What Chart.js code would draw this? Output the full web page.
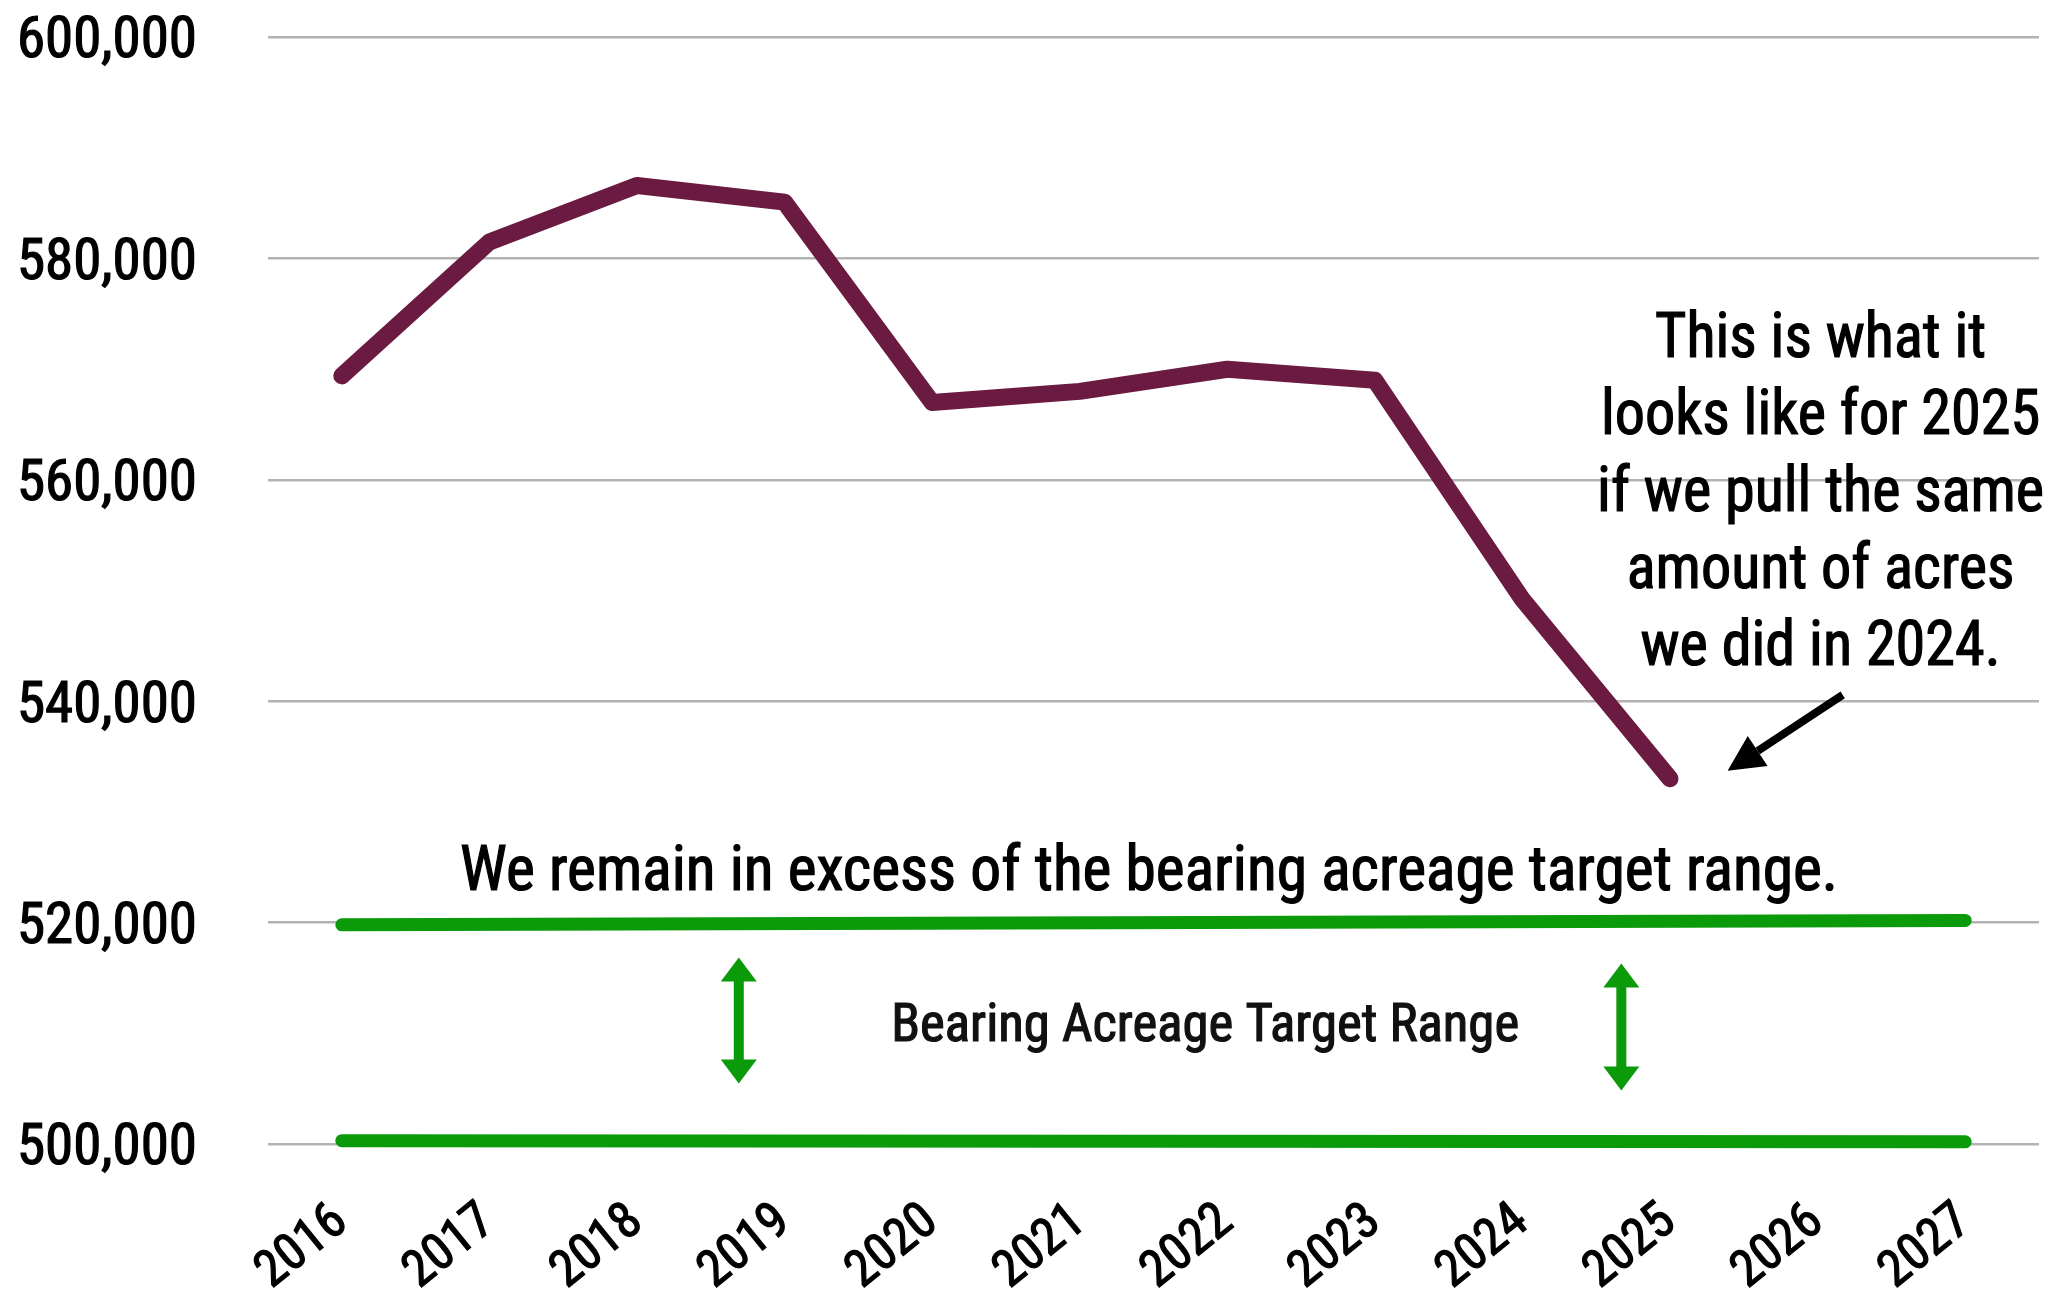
<!DOCTYPE html>
<html>
<head>
<meta charset="utf-8">
<script src="https://cdn.jsdelivr.net/npm/chart.js@4.4.1/dist/chart.umd.min.js"></script>
<style>
  html, body { margin: 0; padding: 0; background: #fff; }
  #wrap { width: 2061px; height: 1296px; }
</style>
</head>
<body>
<div id="wrap"><canvas id="acreageChart"></canvas></div>
<script>
const years = ['2016', '2017', '2018', '2019', '2020', '2021', '2022', '2023', '2024', '2025', '2026', '2027'];
const bearingAcres = [569400, 581500, 586600, 585100, 567000, 568000, 570000, 569000, 549200, 533000, null, null];
// target range edges, only the two end points are drawn and joined
const targetTop = [519800, null, null, null, null, null, null, null, null, null, null, 520200];
const targetBottom = [500300, null, null, null, null, null, null, null, null, null, null, 500200];
const yTicks = [500000, 520000, 540000, 560000, 580000, 600000];
const noteLines = ['This is what it', 'looks like for 2025', 'if we pull the same', 'amount of acres', 'we did in 2024.'];

const GREEN = '#0a9a0a';

// pick the narrowest font that is actually installed
function pickFont(list) {
    const c = document.createElement('canvas').getContext('2d');
    const sample = 'Bearing 600,000 2024';
    c.font = '40px monospace';
    const base = c.measureText(sample).width;
    for (const f of list) {
        c.font = '40px "' + f + '", monospace';
        if (Math.abs(c.measureText(sample).width - base) > 0.5) return '"' + f + '"';
    }
    return 'sans-serif';
}
const FONT = pickFont(['Roboto Condensed', 'Liberation Sans Narrow', 'Noto Sans Condensed', 'Open Sans Condensed',
    'DejaVu Sans Condensed', 'Arial Narrow', 'Roboto', 'Liberation Sans']);

function fitSize(text, target, max) {
    const c = document.createElement('canvas').getContext('2d');
    c.font = '100px ' + FONT;
    return Math.min(max, Math.floor(target * 100 / c.measureText(text).width));
}
const yTickSize = fitSize('600,000', 181, 60);
const xTickSize = fitSize('2016', 102, 56);

// text squeezed to the width it takes in the original, slightly emboldened
function squeezedText(ctx, text, cx, cy, width) {
    const w = ctx.measureText(text).width;
    const k = Math.min(1, width / w);
    ctx.save();
    ctx.translate(cx, cy);
    ctx.scale(k, 1);
    ctx.fillText(text, 0, 0);
    ctx.strokeText(text, 0, 0);
    ctx.restore();
}

function doubleArrow(ctx, px, top, bottom) {
    const shaft = 5, headW = 18, headL = 24;
    ctx.beginPath();
    ctx.moveTo(px, top);
    ctx.lineTo(px + headW, top + headL);
    ctx.lineTo(px + shaft, top + headL);
    ctx.lineTo(px + shaft, bottom - headL);
    ctx.lineTo(px + headW, bottom - headL);
    ctx.lineTo(px, bottom);
    ctx.lineTo(px - headW, bottom - headL);
    ctx.lineTo(px - shaft, bottom - headL);
    ctx.lineTo(px - shaft, top + headL);
    ctx.lineTo(px - headW, top + headL);
    ctx.closePath();
    ctx.fill();
}

const notesPlugin = {
    id: 'notes',
    afterDatasetsDraw(chart) {
        const { ctx, scales: { x, y } } = chart;
        ctx.save();
        ctx.textAlign = 'center';
        ctx.textBaseline = 'middle';
        ctx.fillStyle = '#000';
        ctx.strokeStyle = '#000';
        ctx.lineWidth = 1.2;

        ctx.font = '63px ' + FONT;
        squeezedText(ctx, 'We remain in excess of the bearing acreage target range.',
            x.getPixelForValue(5.47), y.getPixelForValue(524400), 1378);

        ctx.font = '54px ' + FONT;
        ctx.fillStyle = '#111';
        ctx.strokeStyle = '#111';
        squeezedText(ctx, 'Bearing Acreage Target Range', x.getPixelForValue(5.85), y.getPixelForValue(510500), 628);

        ctx.fillStyle = '#000';
        ctx.strokeStyle = '#000';
        ctx.font = '63px ' + FONT;
        const nx = x.getPixelForValue(10.02);
        const ny = y.getPixelForValue(572500);
        const k = Math.min(1, 447 / ctx.measureText(noteLines[2]).width);
        ctx.save();
        ctx.translate(nx, ny);
        ctx.scale(k, 1);
        noteLines.forEach((line, i) => {
            ctx.fillText(line, 0, i * 77);
            ctx.strokeText(line, 0, i * 77);
        });
        ctx.restore();

        // green double arrows
        ctx.fillStyle = GREEN;
        doubleArrow(ctx, x.getPixelForValue(2.69), y.getPixelForValue(516840), y.getPixelForValue(505470));
        doubleArrow(ctx, x.getPixelForValue(8.67), y.getPixelForValue(516300), y.getPixelForValue(504840));

        // black pointer arrow
        const tx = x.getPixelForValue(10.17), ty = y.getPixelForValue(540580);
        const hx = x.getPixelForValue(9.39), hy = y.getPixelForValue(533720);
        const ang = Math.atan2(hy - ty, hx - tx);
        const headL = 36, headW = 18;
        const bx = hx - Math.cos(ang) * headL, by = hy - Math.sin(ang) * headL;
        ctx.fillStyle = '#000';
        ctx.strokeStyle = '#000';
        ctx.lineWidth = 8;
        ctx.beginPath();
        ctx.moveTo(tx, ty);
        ctx.lineTo(bx, by);
        ctx.stroke();
        ctx.beginPath();
        ctx.moveTo(hx, hy);
        ctx.lineTo(bx + Math.sin(ang) * headW, by - Math.cos(ang) * headW);
        ctx.lineTo(bx - Math.sin(ang) * headW, by + Math.cos(ang) * headW);
        ctx.closePath();
        ctx.fill();
        ctx.restore();
    }
};

const ctx = document.getElementById('acreageChart').getContext('2d');
new Chart(ctx, {
    type: 'line',
    data: {
        labels: years,
        datasets: [{
            label: 'Bearing acres',
            data: bearingAcres,
            borderColor: '#6b1a42',
            borderWidth: 17,
            borderCapStyle: 'round',
            borderJoinStyle: 'round',
            pointRadius: 0,
            tension: 0,
            clip: false
        }, {
            label: 'Target top',
            data: targetTop,
            borderColor: GREEN,
            borderWidth: 13,
            borderCapStyle: 'round',
            pointRadius: 0,
            spanGaps: true,
            clip: false
        }, {
            label: 'Target bottom',
            data: targetBottom,
            borderColor: GREEN,
            borderWidth: 13,
            borderCapStyle: 'round',
            pointRadius: 0,
            spanGaps: true,
            clip: false
        }]
    },
    options: {
        responsive: true,
        maintainAspectRatio: false,
        animation: false,
        layout: { padding: { left: 0, right: 22, top: 0, bottom: 0 } },
        plugins: { legend: { display: false }, tooltip: { enabled: false } },
        scales: {
            x: {
                offset: true,
                grid: { display: false, drawTicks: true, tickLength: 48 },
                border: { display: false },
                ticks: {
                    color: '#000',
                    font: { family: FONT, size: xTickSize },
                    textStrokeColor: '#000',
                    textStrokeWidth: 1.2,
                    minRotation: 39,
                    maxRotation: 39,
                    autoSkip: false,
                    padding: 0
                },
                afterFit(scale) { scale.height = 152; }
            },
            y: {
                min: 500000,
                max: 600000,
                border: { display: false },
                grid: { color: '#b3b3b3', lineWidth: 2.5, drawTicks: true, tickLength: 68, tickColor: 'rgba(0,0,0,0)' },
                afterBuildTicks(scale) { scale.ticks = yTicks.map(v => ({ value: v })); },
                ticks: {
                    color: '#000',
                    font: { family: FONT, size: yTickSize },
                    textStrokeColor: '#000',
                    textStrokeWidth: 1.2,
                    padding: 3,
                    labelOffset: 6,
                    callback: v => v.toLocaleString('en-US')
                },
                afterFit(scale) { scale.width = 268; }
            }
        }
    },
    plugins: [notesPlugin]
});
</script>
</body>
</html>
